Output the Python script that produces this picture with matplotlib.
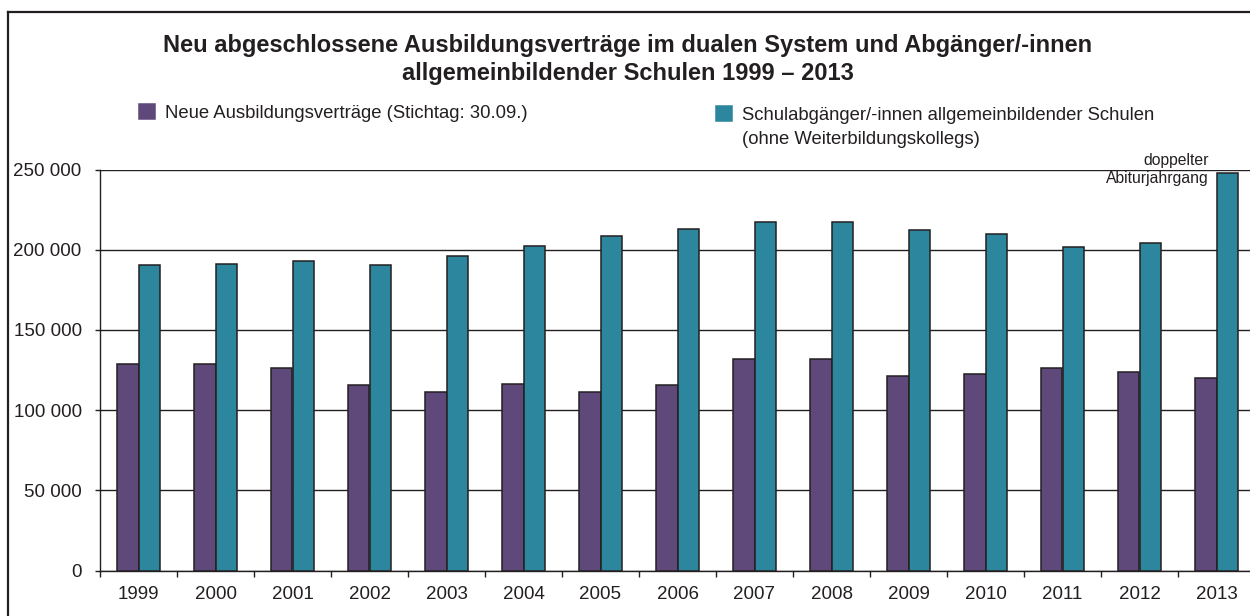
import matplotlib
matplotlib.use("agg")
import matplotlib.pyplot as plt
from matplotlib.lines import Line2D
from matplotlib.patches import Rectangle
from matplotlib.ticker import FuncFormatter, FixedLocator
import numpy as np

plt.rcParams['font.family'] = ['Liberation Sans', 'DejaVu Sans']

# data
years = ["1999", "2000", "2001", "2002", "2003", "2004", "2005", "2006",
         "2007", "2008", "2009", "2010", "2011", "2012", "2013"]
vertraege = [128900, 129000, 126200, 116000, 111200, 116200, 111200, 115800,
             132000, 132000, 121600, 122600, 126600, 124100, 120200]
abgaenger = [190400, 191400, 192700, 190800, 195800, 202600, 208300, 213000,
             217000, 217000, 212400, 209700, 201800, 204100, 248100]
label_vertraege = "Neue Ausbildungsverträge (Stichtag: 30.09.)"
label_abgaenger = ["Schulabgänger/-innen allgemeinbildender Schulen",
                   "(ohne Weiterbildungskollegs)"]
title = ("Neu abgeschlossene Ausbildungsverträge im dualen System und Abgänger/-innen\n"
         "allgemeinbildender Schulen 1999 \u2013 2013")
note = "doppelter\nAbiturjahrgang"

purple = "#5f497a"
teal = "#2c869e"
ink = "#231f20"

W, H = 1250, 616
fig = plt.figure(figsize=(W / 100, H / 100), dpi=100)
ax = fig.add_axes([100 / W, (H - 570.7) / H, 1155 / W, (570.7 - 169.5) / H])

x = np.arange(len(years))
bw = 0.285
b1 = ax.bar(x - bw / 2, vertraege, bw, color=purple, edgecolor=ink, linewidth=1.1, zorder=3)
b2 = ax.bar(x + bw / 2, abgaenger, bw, color=teal, edgecolor=ink, linewidth=1.1, zorder=3)

ax.set_xlim(-0.5, len(years) - 0.5)
ax.set_ylim(0, 250000)
ax.set_yticks(np.arange(0, 250001, 50000))
ax.yaxis.set_major_formatter(FuncFormatter(lambda v, p: f"{int(v):,}".replace(",", " ")))
ax.grid(axis='y', color=ink, linewidth=1.0, zorder=1)
ax.set_axisbelow(True)

# ticks at category borders, labels in the middle
ax.xaxis.set_major_locator(FixedLocator(np.arange(-0.5, len(years), 1.0)))
ax.xaxis.set_minor_locator(FixedLocator(x))
ax.set_xticklabels([], minor=False)
ax.set_xticklabels(years, minor=True)
ax.tick_params(axis='x', which='major', length=4.5, width=1.0, color=ink, direction='out')
ax.tick_params(axis='x', which='minor', length=0, pad=11, labelsize=13.5, labelcolor=ink)
ax.tick_params(axis='y', length=3.6, width=1.0, color=ink, pad=9.6, labelsize=13.5, labelcolor=ink)

for s in ['top', 'right']:
    ax.spines[s].set_visible(False)
for s in ['left', 'bottom']:
    ax.spines[s].set_color(ink)
    ax.spines[s].set_linewidth(1.0)

ax.text(len(years) - 1 - 0.1, 250000, note, ha='right', va='center',
        fontsize=11.3, color=ink, linespacing=1.25)

fig.text(628 / W, 1 - 59.5 / H, title, ha='center', va='center', fontsize=17,
         fontweight='bold', color=ink, linespacing=1.25)

leg_kw = dict(loc='upper left', frameon=False, fontsize=13.3, borderpad=0,
              borderaxespad=0, handlelength=0.87, handleheight=0.87,
              handletextpad=0.55, labelcolor=ink, labelspacing=0.32)
l1 = fig.legend([b1], [label_vertraege], bbox_to_anchor=(139 / W, 1 - 104 / H), **leg_kw)
blank = Rectangle((0, 0), 1, 1, visible=False)
l2 = fig.legend([b2, blank], label_abgaenger, bbox_to_anchor=(716 / W, 1 - 106 / H), **leg_kw)
l1.legend_handles[0].set_edgecolor(purple)
l2.legend_handles[0].set_edgecolor(teal)

# outer frame (left and top visible)
fig.add_artist(Line2D([7.5 / W, 7.5 / W], [0, 1 - 11.5 / H], color=ink, linewidth=1.6,
                      transform=fig.transFigure))
fig.add_artist(Line2D([7.5 / W, 1], [1 - 11.5 / H, 1 - 11.5 / H], color=ink, linewidth=1.6,
                      transform=fig.transFigure))

fig.savefig("out.png", dpi=100)
